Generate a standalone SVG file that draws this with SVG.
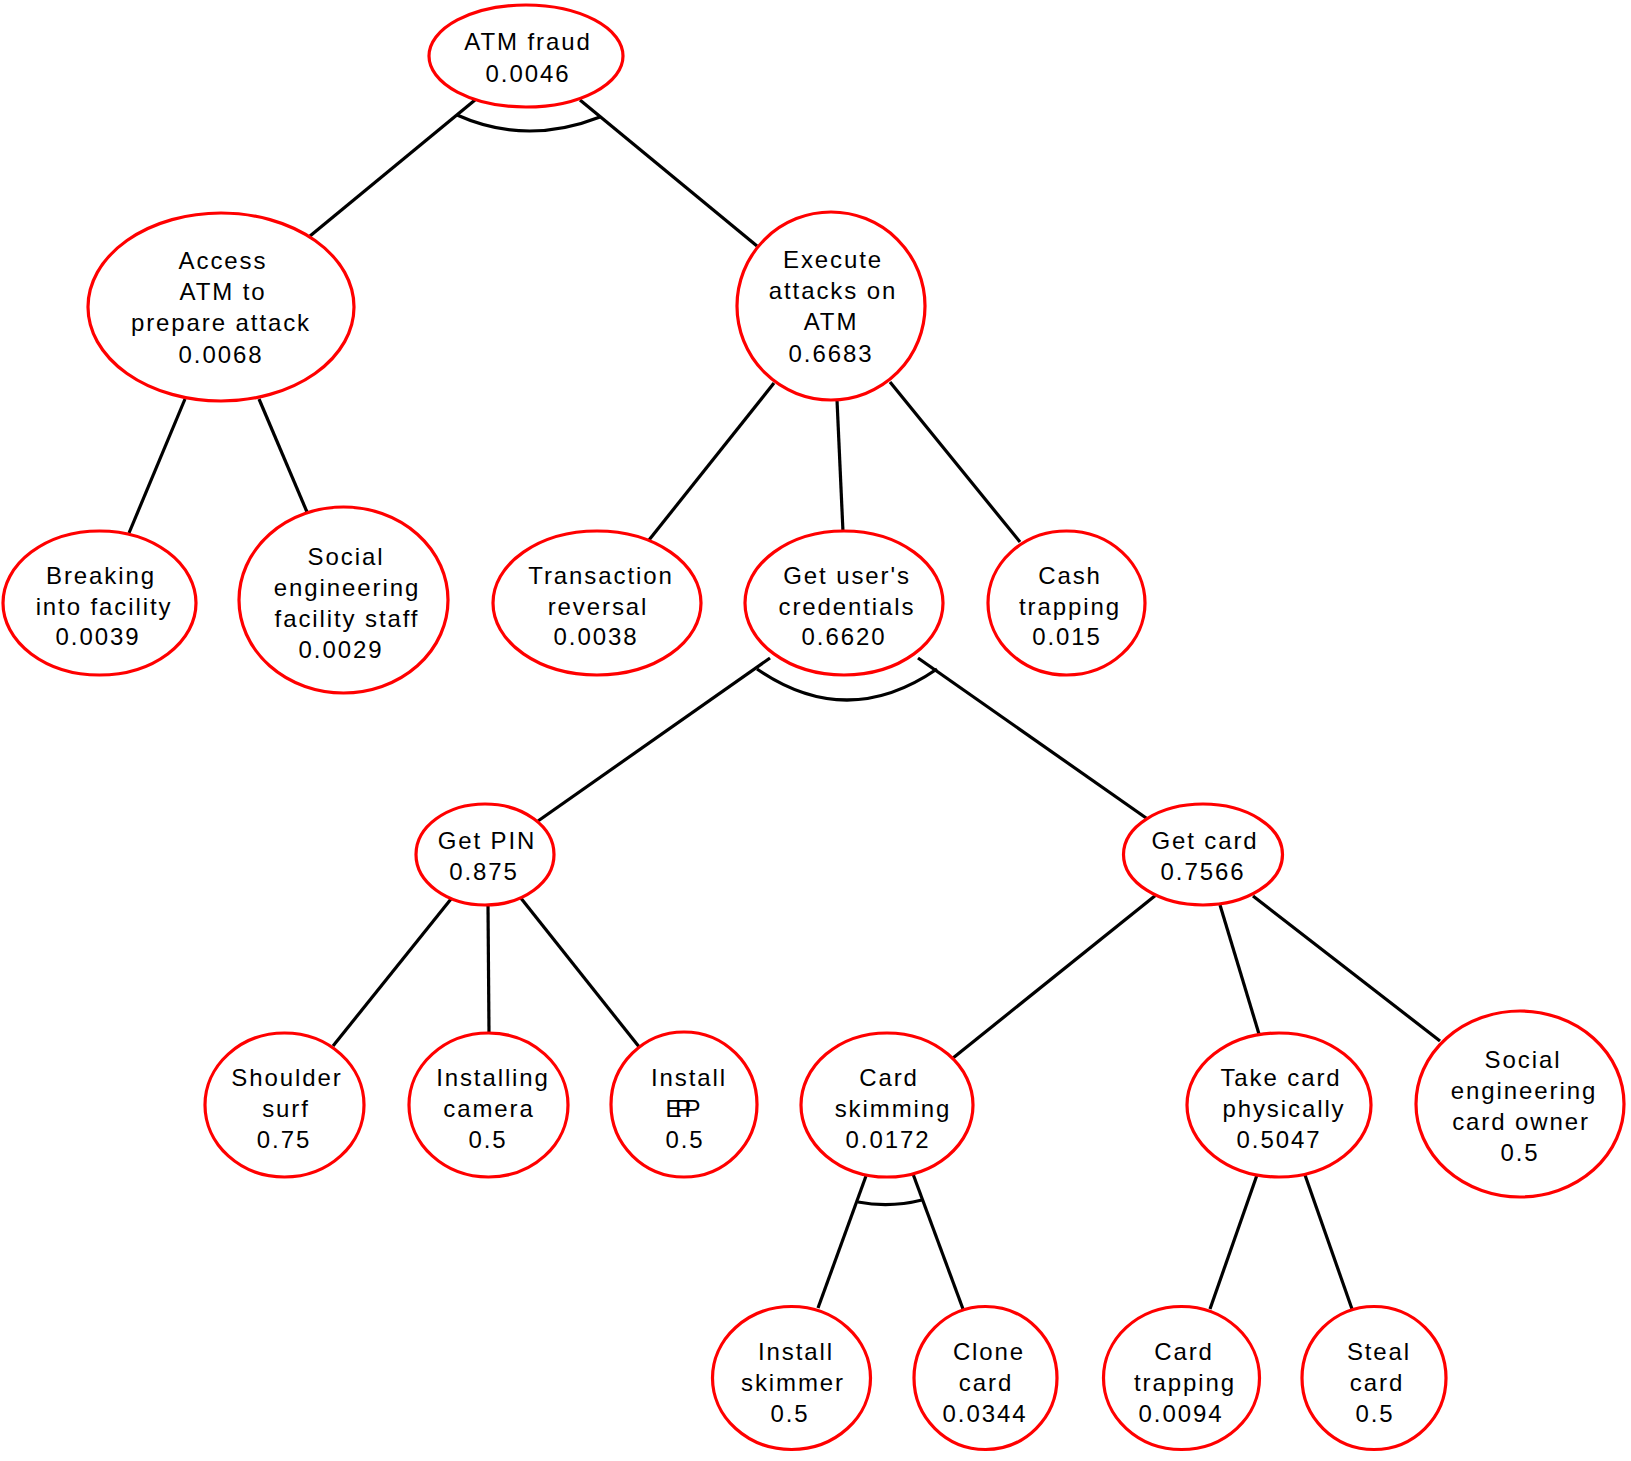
<svg xmlns="http://www.w3.org/2000/svg" width="1631" height="1461" viewBox="0 0 1631 1461">
<style>
.n ellipse{fill:#fff;stroke:#ff0000;stroke-width:3.2}
.n text{font-family:"Liberation Sans",Arial,sans-serif;font-size:24px;letter-spacing:1.9px;text-anchor:middle;fill:#000}
#edges line,#edges path{stroke:#000;stroke-width:3.2;fill:none}
</style>
<rect width="1631" height="1461" fill="#fff"/>
<g id="edges">
<line x1="475" y1="100" x2="310" y2="236"/>
<line x1="580" y1="100" x2="757" y2="246"/>
<path d="M457 115 Q526 146 600 117"/>
<line x1="185" y1="399" x2="129" y2="533"/>
<line x1="259" y1="399" x2="307" y2="512"/>
<line x1="774" y1="383" x2="649" y2="540"/>
<line x1="837" y1="400" x2="843" y2="532"/>
<line x1="890" y1="382" x2="1020" y2="542"/>
<line x1="770" y1="658" x2="538" y2="821"/>
<line x1="918" y1="658" x2="1149" y2="820"/>
<path d="M757 669 Q847 731 937 669"/>
<line x1="451" y1="899" x2="333" y2="1046"/>
<line x1="488" y1="905" x2="489" y2="1033"/>
<line x1="520" y1="897" x2="640" y2="1048"/>
<line x1="1156" y1="895" x2="953" y2="1058"/>
<line x1="1220" y1="905" x2="1259" y2="1034"/>
<line x1="1253" y1="896" x2="1440" y2="1041"/>
<line x1="866" y1="1176" x2="818" y2="1308"/>
<line x1="913" y1="1174" x2="963" y2="1309"/>
<path d="M858 1202 Q890 1208 922 1200"/>
<line x1="1257" y1="1175" x2="1210" y2="1309"/>
<line x1="1305" y1="1175" x2="1352" y2="1309"/>
</g>
<g id="atm_fraud" class="n"><ellipse cx="526" cy="56" rx="97" ry="51"/><text x="528" y="50">ATM fraud</text><text x="528" y="82">0.0046</text></g>
<g id="access" class="n"><ellipse cx="221" cy="307" rx="133" ry="94"/><text x="223" y="269">Access</text><text x="223" y="300">ATM to</text><text x="221" y="331">prepare attack</text><text x="221" y="363">0.0068</text></g>
<g id="execute" class="n"><ellipse cx="831" cy="306" rx="94" ry="94"/><text x="833" y="268">Execute</text><text x="833" y="299">attacks on</text><text x="831" y="330">ATM</text><text x="831" y="362">0.6683</text></g>
<g id="breaking" class="n"><ellipse cx="99.5" cy="603" rx="96.5" ry="72"/><text x="101" y="584">Breaking</text><text x="104" y="615">into facility</text><text x="98" y="645">0.0039</text></g>
<g id="social_staff" class="n"><ellipse cx="343.5" cy="600" rx="104.5" ry="93"/><text x="346" y="565">Social</text><text x="347" y="596">engineering</text><text x="347" y="627">facility staff</text><text x="341" y="658">0.0029</text></g>
<g id="transaction" class="n"><ellipse cx="597" cy="603" rx="104" ry="72"/><text x="601" y="584">Transaction</text><text x="598" y="615">reversal</text><text x="596" y="645">0.0038</text></g>
<g id="credentials" class="n"><ellipse cx="844" cy="603" rx="99" ry="72"/><text x="847" y="584">Get user's</text><text x="847" y="615">credentials</text><text x="844" y="645">0.6620</text></g>
<g id="cash" class="n"><ellipse cx="1066.5" cy="603" rx="78.5" ry="72"/><text x="1070" y="584">Cash</text><text x="1070" y="615">trapping</text><text x="1067" y="645">0.015</text></g>
<g id="get_pin" class="n"><ellipse cx="485" cy="854.5" rx="69" ry="50.5"/><text x="487" y="849">Get PIN</text><text x="484" y="880">0.875</text></g>
<g id="get_card" class="n"><ellipse cx="1203" cy="854.5" rx="79.5" ry="50.5"/><text x="1205" y="849">Get card</text><text x="1203" y="880">0.7566</text></g>
<g id="shoulder" class="n"><ellipse cx="284.5" cy="1105" rx="79.5" ry="72"/><text x="287" y="1086">Shoulder</text><text x="286" y="1117">surf</text><text x="284" y="1148">0.75</text></g>
<g id="camera" class="n"><ellipse cx="488.5" cy="1105" rx="79.5" ry="72"/><text x="493" y="1086">Installing</text><text x="489" y="1117">camera</text><text x="488" y="1148">0.5</text></g>
<g id="epp" class="n"><ellipse cx="684" cy="1104.5" rx="73" ry="72.5"/><text x="689" y="1086">Install</text><text x="684" y="1117" textLength="37" lengthAdjust="spacing">EPP</text><text x="685" y="1148">0.5</text></g>
<g id="skimming" class="n"><ellipse cx="887" cy="1105" rx="86" ry="72"/><text x="889" y="1086">Card</text><text x="893" y="1117">skimming</text><text x="888" y="1148">0.0172</text></g>
<g id="take_card" class="n"><ellipse cx="1279" cy="1105" rx="92" ry="72"/><text x="1281" y="1086">Take card</text><text x="1284" y="1117">physically</text><text x="1279" y="1148">0.5047</text></g>
<g id="social_owner" class="n"><ellipse cx="1520" cy="1104" rx="104" ry="93"/><text x="1523" y="1068">Social</text><text x="1524" y="1099">engineering</text><text x="1521" y="1130">card owner</text><text x="1520" y="1161">0.5</text></g>
<g id="skimmer" class="n"><ellipse cx="791.5" cy="1378" rx="79" ry="71.5"/><text x="796" y="1360">Install</text><text x="793" y="1391">skimmer</text><text x="790" y="1422">0.5</text></g>
<g id="clone" class="n"><ellipse cx="985.5" cy="1378" rx="71.5" ry="71.5"/><text x="989" y="1360">Clone</text><text x="986" y="1391">card</text><text x="985" y="1422">0.0344</text></g>
<g id="card_trapping" class="n"><ellipse cx="1181.5" cy="1378" rx="78" ry="71.5"/><text x="1184" y="1360">Card</text><text x="1185" y="1391">trapping</text><text x="1181" y="1422">0.0094</text></g>
<g id="steal" class="n"><ellipse cx="1374" cy="1378" rx="72" ry="71.5"/><text x="1379" y="1360">Steal</text><text x="1377" y="1391">card</text><text x="1375" y="1422">0.5</text></g>
</svg>
